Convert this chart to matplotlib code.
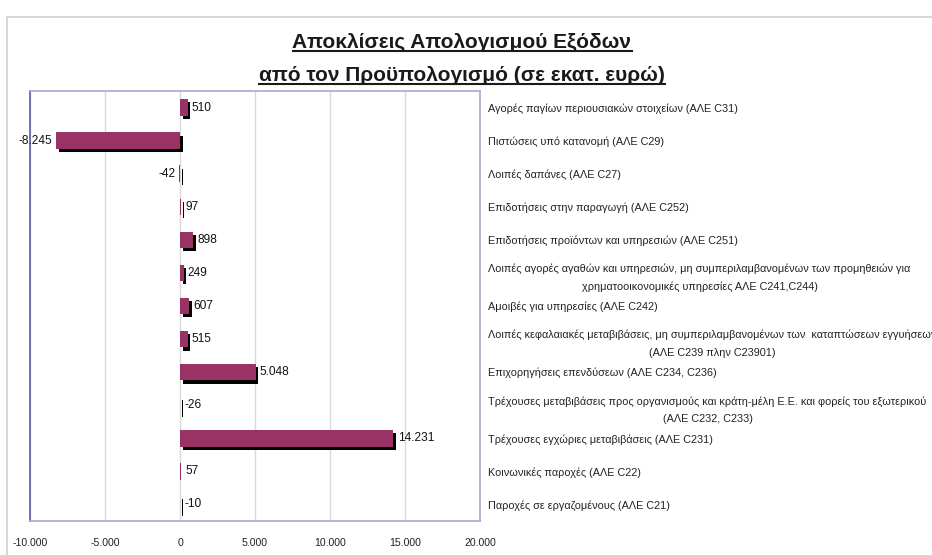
import matplotlib
matplotlib.use("Agg")
import matplotlib.pyplot as plt
import matplotlib.patheffects as pe
from matplotlib.patches import Rectangle
from matplotlib.lines import Line2D
from matplotlib.ticker import FuncFormatter

categories = [
    "Αγορές παγίων περιουσιακών στοιχείων (ΑΛΕ C31)",
    "Πιστώσεις υπό κατανομή (ΑΛΕ C29)",
    "Λοιπές δαπάνες (ΑΛΕ C27)",
    "Επιδοτήσεις στην παραγωγή (ΑΛΕ C252)",
    "Επιδοτήσεις προϊόντων και υπηρεσιών (ΑΛΕ C251)",
    "Λοιπές αγορές αγαθών και υπηρεσιών, μη συμπεριλαμβανομένων των προμηθειών για\nχρηματοοικονομικές υπηρεσίες ΑΛΕ C241,C244)",
    "Αμοιβές για υπηρεσίες (ΑΛΕ C242)",
    "Λοιπές κεφαλαιακές μεταβιβάσεις, μη συμπεριλαμβανομένων των  καταπτώσεων εγγυήσεων\n(ΑΛΕ C239 πλην C23901)",
    "Επιχορηγήσεις επενδύσεων (ΑΛΕ C234, C236)",
    "Τρέχουσες μεταβιβάσεις προς οργανισμούς και κράτη-μέλη Ε.Ε. και φορείς του εξωτερικού\n(ΑΛΕ C232, C233)",
    "Τρέχουσες εγχώριες μεταβιβάσεις (ΑΛΕ C231)",
    "Κοινωνικές παροχές (ΑΛΕ C22)",
    "Παροχές σε εργαζομένους (ΑΛΕ C21)",
]
values = [510, -8245, -42, 97, 898, 249, 607, 515, 5048, -26, 14231, 57, -10]
x_ticks = [-10000, -5000, 0, 5000, 10000, 15000, 20000]
title_lines = ["Αποκλίσεις Απολογισμού Εξόδων", "από τον Προϋπολογισμό (σε εκατ. ευρώ)"]

# style: which side each value label sits on (Excel placement)
label_side = ["r", "l", "l", "r", "r", "r", "r", "r", "r", "r0", "r", "r", "r0"]

plt.rcParams["font.family"] = ["Liberation Sans", "DejaVu Sans"]

W, H = 932, 555
fig = plt.figure(figsize=(W / 100, H / 100), dpi=100)
fig.patch.set_facecolor("white")

# outer chart border
fig.patches.append(Rectangle((7 / W, -0.05), 1.2, 1 - 17 / H + 0.05,
                             transform=fig.transFigure, fill=False,
                             edgecolor="#D0D0D0", linewidth=1.2))

ax = fig.add_axes([30 / W, 1 - 521 / H, 450 / W, (521 - 91) / H])
ypos = list(range(len(categories)))
bars = ax.barh(ypos, values, height=0.5, color="#993366", zorder=3)
for b in bars:
    b.set_path_effects([pe.SimplePatchShadow(offset=(1.9, -2.3), shadow_rgbFace="black", alpha=1.0),
                        pe.Normal()])

ax.set_xlim(-10000, 20000)
ax.set_ylim(len(categories) - 0.5, -0.5)
ax.set_xticks(x_ticks)
ax.xaxis.set_major_formatter(FuncFormatter(lambda v, p: f"{int(v):,}".replace(",", ".")))
ax.grid(axis="x", color="#D9D9D9", linewidth=1.0, zorder=0)
ax.tick_params(axis="x", length=0, pad=12, labelsize=7.6, labelcolor="#222222")

ax.set_yticks(ypos)
ax.set_yticklabels(categories)
ax.yaxis.tick_right()
ax.tick_params(axis="y", length=0, pad=6, labelsize=7.8, labelcolor="#222222")
for lab in ax.get_yticklabels():
    lab.set_multialignment("center")
    lab.set_linespacing(1.9)

for sp in ["top", "right", "bottom"]:
    ax.spines[sp].set_color("#A8A8D0")
    ax.spines[sp].set_linewidth(1.2)
ax.spines["left"].set_color("#5A5EA8")
ax.spines["left"].set_linewidth(1.2)

for i, v in enumerate(values):
    txt = f"{v:,}".replace(",", ".")
    side = label_side[i]
    if side == "l":
        ax.annotate(txt, (v, i), xytext=(-3, 0), textcoords="offset points",
                    ha="right", va="center", fontsize=8.6, color="#111111", zorder=5)
    elif side == "r0":
        ax.annotate(txt, (0, i), xytext=(3, 0), textcoords="offset points",
                    ha="left", va="center", fontsize=8.6, color="#111111", zorder=5)
    else:
        ax.annotate(txt, (v, i), xytext=(3, 0), textcoords="offset points",
                    ha="left", va="center", fontsize=8.6, color="#111111", zorder=5)

# title with underline
title_y = [1 - 42 / H, 1 - 76 / H]
fig.canvas.draw()
r = fig.canvas.get_renderer()
for s, y in zip(title_lines, title_y):
    t = fig.text(462 / W, y, s, ha="center", va="center", fontsize=15,
                 fontweight="bold", color="#1a1a1a")
    bb = t.get_window_extent(renderer=r)
    uy = (bb.y0 + 1) / H
    fig.add_artist(Line2D([bb.x0 / W, bb.x1 / W], [uy, uy], transform=fig.transFigure,
                          color="#1a1a1a", linewidth=1.5))

fig.savefig("out.png", dpi=100)
